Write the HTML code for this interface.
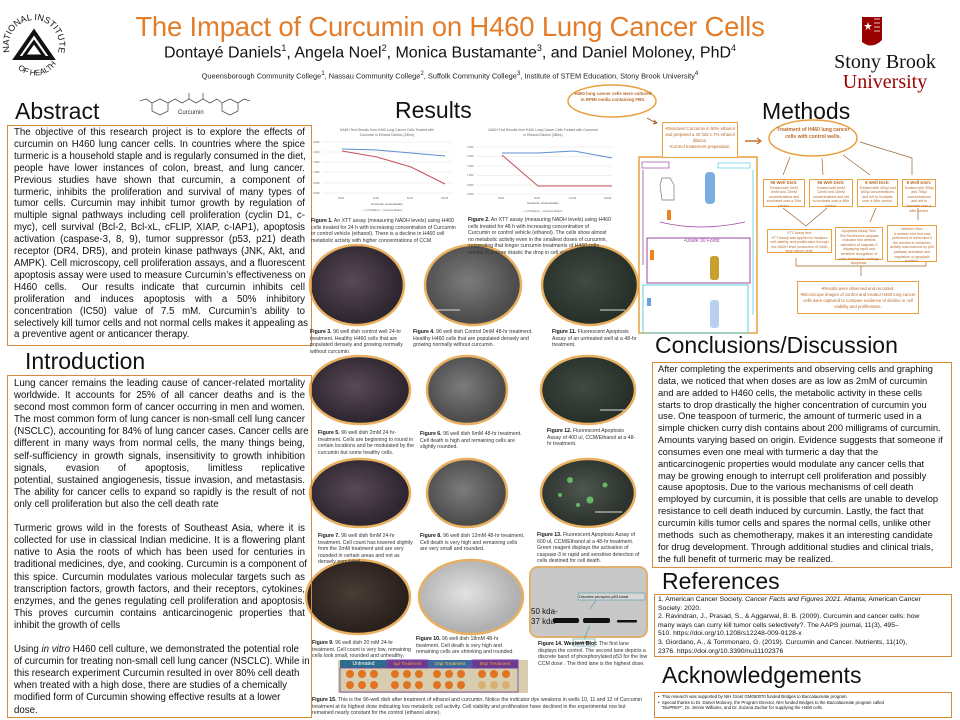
<!DOCTYPE html>
<html><head><meta charset="utf-8">
<style>
*{margin:0;padding:0;box-sizing:border-box}
body{width:960px;height:720px;background:#fff;position:relative;overflow:hidden;font-family:"Liberation Sans",sans-serif;color:#111}
.a{position:absolute}
.h{position:absolute;font-size:22px;color:#111;line-height:1}
.box{position:absolute;border:1.3px solid #d9893a}
.j div{text-align:justify;text-align-last:justify;white-space:nowrap}
.j div.l{text-align-last:left}
.cap{position:absolute;font-size:5.2px;line-height:6.6px;color:#333}
.cap b{color:#111}
.mb{position:absolute;border:1.2px solid #e8a040;background:#fff;color:#b86a2a;font-size:3.6px;line-height:4.6px;text-align:center;padding:1px}
.mb b{font-size:4.4px}
</style></head><body>

<svg class="a" style="left:0;top:0" width="960" height="720">
<defs>
<radialGradient id="g1" cx="45%" cy="45%"><stop offset="0" stop-color="#5a4a56"/><stop offset="1" stop-color="#2e2630"/></radialGradient>
<radialGradient id="g2" cx="45%" cy="45%"><stop offset="0" stop-color="#7c7c7c"/><stop offset="1" stop-color="#4c4c4c"/></radialGradient>
<radialGradient id="g3" cx="45%" cy="45%"><stop offset="0" stop-color="#4e564f"/><stop offset="1" stop-color="#2c322d"/></radialGradient>
<radialGradient id="g4" cx="45%" cy="45%"><stop offset="0" stop-color="#4a3c36"/><stop offset="1" stop-color="#2a211d"/></radialGradient>
<radialGradient id="g5" cx="45%" cy="45%"><stop offset="0" stop-color="#e2e2e2"/><stop offset="1" stop-color="#b0b0b0"/></radialGradient>
<radialGradient id="g6" cx="45%" cy="45%"><stop offset="0" stop-color="#3f4a42"/><stop offset="1" stop-color="#28302a"/></radialGradient>
</defs>
<path id="nihc" d="M10,52 A25,25 0 1 1 58,52" fill="none"/>
<text font-size="9" font-family="Liberation Sans" fill="#111"><textPath href="#nihc">NATIONAL INSTITUTES</textPath></text>
<path id="nihd" d="M14,64 A25,25 0 0 0 56,64" fill="none"/>
<text font-size="8" font-family="Liberation Sans" fill="#111"><textPath href="#nihd" startOffset="12%">OF HEALTH</textPath></text>
<path d="M34,32 L52,58 L16,58 Z" fill="none" stroke="#111" stroke-width="4"/>
<path d="M34,42 L44,56 L24,56 Z" fill="#fff" stroke="#111" stroke-width="3"/>
<path d="M862,17 L882,17 L882,40 Q872,50 862,42 Z" fill="#990000"/>
<path d="M868,22 l1,3 3,0 -2.5,2 1,3 -2.5,-2 -2.5,2 1,-3 -2.5,-2 3,0z" fill="#fff"/>
<path d="M874,19 L880,19 M874,23 L880,23 M874,27 L880,27 M874,31 L880,31" stroke="#fff" stroke-width="0.8"/>
<g stroke="#555" stroke-width="0.8" fill="none">
<polygon points="152,103 160,99 168,103 168,111 160,115 152,111"/>
<polygon points="222,103 230,99 238,103 238,111 230,115 222,111"/>
<polyline points="168,103 175,99 182,103 189,99 196,103 203,99 210,103 217,99 222,103"/>
<line x1="189" y1="99" x2="189" y2="93"/><line x1="203" y1="99" x2="203" y2="93"/>
<polyline points="152,103 146,99 140,101"/><polyline points="238,103 244,99 250,101"/>
</g>
<g font-family="Liberation Sans" fill="#666">
<g stroke="#e2e2e2" stroke-width="0.5">
<line x1="323" y1="142" x2="452" y2="142"/><line x1="323" y1="152" x2="452" y2="152"/><line x1="323" y1="162" x2="452" y2="162"/><line x1="323" y1="172" x2="452" y2="172"/><line x1="323" y1="183" x2="452" y2="183"/><line x1="323" y1="193" x2="452" y2="193"/>
<line x1="477" y1="147" x2="612" y2="147"/><line x1="477" y1="156.5" x2="612" y2="156.5"/><line x1="477" y1="166" x2="612" y2="166"/><line x1="477" y1="175.5" x2="612" y2="175.5"/><line x1="477" y1="185" x2="612" y2="185"/><line x1="477" y1="194" x2="612" y2="194"/>
</g>
<text font-size="3.4" x="387" y="131" text-anchor="middle">NADH Test Results from H460 Lung Cancer Cells Treated with</text>
<text font-size="3.4" x="387" y="136" text-anchor="middle">Curcumin in Ethanol Dilution (24hrs)</text>
<text font-size="3.4" x="543" y="131" text-anchor="middle">NADH Test Results from H460 Lung Cancer Cells Treated with Curcumin</text>
<text font-size="3.4" x="543" y="136" text-anchor="middle">in Ethanol Dilution (48hrs)</text>
<g font-size="2.6"><text x="313" y="143">2.500</text><text x="313" y="153">2.000</text><text x="313" y="163">1.500</text><text x="313" y="173">1.000</text><text x="313" y="184">0.500</text><text x="313" y="194">0.000</text>
<text x="467" y="148">2.500</text><text x="467" y="157">2.000</text><text x="467" y="167">1.500</text><text x="467" y="176">1.000</text><text x="467" y="186">0.500</text><text x="467" y="195">0.000</text>
<text x="338" y="199">0mM</text><text x="373" y="199">2mM</text><text x="407" y="199">6mM</text><text x="441" y="199">20mM</text>
<text x="498" y="199">0mM</text><text x="534" y="199">6mM</text><text x="569" y="199">12mM</text><text x="604" y="199">18mM</text></g>
<text font-size="3" x="387" y="205" text-anchor="middle" fill="#444">Curcumin concentration</text>
<text font-size="3" x="543" y="204" text-anchor="middle" fill="#444">Curcumin concentration</text>
<text font-size="2.4" x="362" y="211">— 1.7% Ethanol   — Curcumin Ethanol</text>
<text font-size="2.4" x="522" y="212">— 1.7% Ethanol   — Curcumin Ethanol</text>
</g>
<polyline points="342,149 377,150 411,153 445,156" fill="none" stroke="#5b8fcf" stroke-width="1"/>
<polyline points="342,151 377,157 411,167 445,184" fill="none" stroke="#c9505a" stroke-width="1"/>
<polyline points="502,153 538,153 574,151 612,158" fill="none" stroke="#5b8fcf" stroke-width="1"/>
<polyline points="502,155 538,186 612,186" fill="none" stroke="#c9505a" stroke-width="1"/>
<g stroke="#e8b060" stroke-width="2.5">
<ellipse cx="357" cy="285" rx="47" ry="40" fill="url(#g1)"/>
<ellipse cx="473" cy="285" rx="48" ry="40" fill="url(#g2)"/>
<ellipse cx="590" cy="285" rx="48" ry="40" fill="url(#g6)"/>
<ellipse cx="360" cy="390" rx="50" ry="34" fill="url(#g1)"/>
<ellipse cx="467" cy="390" rx="40" ry="34" fill="url(#g2)"/>
<ellipse cx="588" cy="390" rx="47" ry="34" fill="url(#g6)"/>
<ellipse cx="360" cy="493" rx="50" ry="34" fill="url(#g1)"/>
<ellipse cx="467" cy="493" rx="40" ry="34" fill="url(#g2)"/>
<ellipse cx="588" cy="493" rx="47" ry="34" fill="url(#g3)"/>
<ellipse cx="358" cy="597" rx="52" ry="37" fill="url(#g4)"/>
<ellipse cx="471" cy="597" rx="52" ry="37" fill="url(#g5)"/>
</g>
<g fill="#6fd36f" opacity="0.8"><circle cx="570" cy="480" r="3"/><circle cx="590" cy="500" r="3.5"/><circle cx="605" cy="485" r="2.5"/><circle cx="578" cy="505" r="2"/><circle cx="560" cy="495" r="2"/></g>
<g stroke="#ddd" stroke-width="1"><line x1="435" y1="310" x2="460" y2="310"/><line x1="600" y1="310" x2="625" y2="310"/><line x1="600" y1="410" x2="625" y2="410"/><line x1="595" y1="512" x2="622" y2="512"/></g>
<rect x="530" y="567" width="117" height="70" rx="8" fill="#c8c8c8" stroke="#e0b070" stroke-width="2"/>
<g fill="#111"><rect x="553" y="618" width="26" height="5" rx="2"/><rect x="583" y="618" width="27" height="5" rx="2"/><rect x="617" y="620" width="20" height="2.5" rx="1"/></g>
<rect x="578" y="593" width="67" height="7" fill="#d8d8d8" stroke="#4a9aa0" stroke-width="0.6"/>
<rect x="573" y="639" width="22" height="7" fill="#fff" stroke="#4a9aa0" stroke-width="0.6"/>
<line x1="596" y1="600" x2="590" y2="609" stroke="#4a9aa0" stroke-width="0.6"/>
<line x1="584" y1="639" x2="590" y2="625" stroke="#4a9aa0" stroke-width="0.6"/>
<rect x="338" y="660" width="190" height="33" fill="#d9cdb0"/>
<rect x="340" y="660" width="47" height="8" fill="#2c6d8c"/>
<rect x="387" y="660" width="41" height="8" fill="#6a3a8c" stroke="#8040b0"/>
<rect x="428" y="660" width="44" height="8" fill="#3a6aa0"/>
<rect x="472" y="660" width="46" height="8" fill="#6a3a8c" stroke="#8040b0"/>
<g fill="#e07420">
<circle cx="350" cy="674" r="4"/><circle cx="362" cy="674" r="4"/><circle cx="374" cy="674" r="4"/><circle cx="350" cy="685" r="4"/><circle cx="362" cy="685" r="4"/><circle cx="374" cy="685" r="4"/>
<circle cx="395" cy="674" r="4"/><circle cx="407" cy="674" r="4"/><circle cx="419" cy="674" r="4"/><circle cx="395" cy="685" r="4"/><circle cx="407" cy="685" r="4"/><circle cx="419" cy="685" r="4"/>
<circle cx="437" cy="674" r="4"/><circle cx="449" cy="674" r="4"/><circle cx="461" cy="674" r="4"/><circle cx="437" cy="685" r="4"/><circle cx="449" cy="685" r="4"/><circle cx="461" cy="685" r="4"/>
<circle cx="482" cy="674" r="4"/><circle cx="494" cy="674" r="4"/><circle cx="506" cy="674" r="4"/></g>
<g fill="#d8b070"><circle cx="482" cy="685" r="4"/><circle cx="494" cy="685" r="4"/><circle cx="506" cy="685" r="4"/></g>
<rect x="340" y="668" width="178" height="24" fill="none" stroke="#7040a0" stroke-width="0.8"/>
<ellipse cx="612" cy="101" rx="44" ry="16" fill="#fff" stroke="#e8a040" stroke-width="1.5"/>
<path d="M647,118 L656,123" stroke="#a0622a" stroke-width="1"/><path d="M654,120 l3,3 -4,1" fill="none" stroke="#a0622a"/>
<rect x="639" y="157" width="118" height="176" fill="#fff" stroke="#e8a040" stroke-width="1.5"/>
<rect x="647" y="238" width="103" height="45" fill="none" stroke="#9a4aa0" stroke-width="1"/>
<rect x="643" y="285" width="105" height="48" fill="none" stroke="#5ad0d8" stroke-width="1"/>
<rect x="642" y="162" width="27" height="6" fill="none" stroke="#9a4aa0" stroke-width="0.7"/>
<rect x="718" y="163" width="32" height="5" fill="none" stroke="#5ad0d8" stroke-width="0.7"/>
<line x1="643" y1="170" x2="643" y2="265" stroke="#9a4aa0" stroke-width="0.8"/>
<line x1="753" y1="170" x2="753" y2="315" stroke="#5ad0d8" stroke-width="0.8"/>
<path d="M662,178 L670,178 L674,185 L674,200 L662,200 L660,185 Z" fill="#fff" stroke="#777" stroke-width="0.7"/>
<rect x="705" y="172" width="10" height="32" rx="4" fill="#7aaee0"/>
<rect x="667" y="210" width="4" height="10" fill="#f08020"/>
<path d="M660,222 Q700,232 745,222" fill="none" stroke="#9a4aa0" stroke-width="0.8"/>
<rect x="710" y="256" width="9" height="24" rx="3" fill="#c8a030"/>
<rect x="650" y="250" width="4" height="10" fill="#f08020"/>
<rect x="710" y="300" width="9" height="28" rx="3" fill="#b8d0f0"/>
<rect x="647" y="298" width="4" height="8" fill="#6aa0e0"/>
<path d="M745,141 L760,141" stroke="#c07030" stroke-width="1.5"/><path d="M757,138 l4,3 -4,3" fill="none" stroke="#c07030" stroke-width="1.2"/>
<ellipse cx="813" cy="138" rx="44" ry="18" fill="#fff" stroke="#e8a040" stroke-width="1.5"/>
<g stroke="#a0622a" stroke-width="0.7" fill="none">
<line x1="790" y1="157" x2="783" y2="175"/><line x1="822" y1="158" x2="823" y2="175"/><line x1="843" y1="155" x2="870" y2="175"/><line x1="860" y1="142" x2="912" y2="158"/><line x1="912" y1="158" x2="912" y2="175"/>
<line x1="783" y1="208" x2="806" y2="226"/><line x1="827" y1="208" x2="806" y2="226"/><line x1="876" y1="208" x2="870" y2="222"/><line x1="918" y1="208" x2="918" y2="220"/>
<path d="M796,258 L796,266 L926,266 L926,258 M861,266 L861,276"/>
</g>
</svg>

<div class="a" style="left:95px;top:11px;width:710px;text-align:center;font-size:27.5px;color:#e37d2a;letter-spacing:-0.2px">The Impact of Curcumin on H460 Lung Cancer Cells</div>
<div class="a" style="left:95px;top:43px;width:710px;text-align:center;font-size:16px;color:#111">Dontayé Daniels<sup style="font-size:9px">1</sup>, Angela Noel<sup style="font-size:9px">2</sup>, Monica Bustamante<sup style="font-size:9px">3</sup>, and Daniel Moloney, PhD<sup style="font-size:9px">4</sup></div>
<div class="a" style="left:95px;top:70px;width:710px;text-align:center;font-size:7.4px;color:#222">Queensborough Community College<sup>1</sup>, Nassau Community College<sup>2</sup>, Suffolk Community College<sup>3</sup>, Institute of STEM Education, Stony Brook University<sup>4</sup></div>
<div class="a" style="left:815px;top:52px;width:140px;text-align:center;font-family:'Liberation Serif',serif;font-size:20px;line-height:20px;color:#111">Stony Brook<br><span style="color:#990000">University</span></div>

<div class="h" style="left:15px;top:100px;font-size:23px">Abstract</div>
<div class="a" style="left:178px;top:110px;font-size:6px;color:#333">Curcumin</div>
<div class="box j" style="left:7px;top:125px;width:305px;height:221px;padding:1px 6px;font-size:9.7px;line-height:11.9px">
<div>The objective of this research project is to explore the effects of</div>
<div>curcumin on H460 lung cancer cells. In countries where the spice</div>
<div>turmeric is a household staple and is regularly consumed in the diet,</div>
<div>people have lower instances of colon, breast, and lung cancer.</div>
<div>Previous studies have shown that curcumin, a component of</div>
<div>turmeric, inhibits the proliferation and survival of many types of</div>
<div>tumor cells. Curcumin may inhibit tumor growth by regulation of</div>
<div>multiple signal pathways including cell proliferation (cyclin D1, c-</div>
<div>myc), cell survival (Bcl-2, Bcl-xL, cFLIP, XIAP, c-IAP1), apoptosis</div>
<div>activation (caspase-3, 8, 9), tumor suppressor (p53, p21) death</div>
<div>receptor (DR4, DR5), and protein kinase pathways (JNK, Akt, and</div>
<div>AMPK). Cell microscopy, cell proliferation assays, and a fluorescent</div>
<div>apoptosis assay were used to measure Curcumin’s effectiveness on</div>
<div>H460 cells.&nbsp; Our results indicate that curcumin inhibits cell</div>
<div>proliferation and induces apoptosis with a 50% inhibitory</div>
<div>concentration (IC50) value of 7.5 mM. Curcumin’s ability to</div>
<div>selectively kill tumor cells and not normal cells makes it appealing as</div>
<div class="l">a preventive agent or anticancer therapy.</div>
</div>

<div class="h" style="left:25px;top:350px;font-size:23px">Introduction</div>
<div class="box j" style="left:7px;top:375px;width:305px;height:343px;padding:2px 6px;font-size:9.7px;line-height:12.1px">
<div>Lung cancer remains the leading cause of cancer-related mortality</div>
<div>worldwide. It accounts for 25% of all cancer deaths and is the</div>
<div>second most common form of cancer occurring in men and women.</div>
<div>The most common form of lung cancer is non-small cell lung cancer</div>
<div>(NSCLC), accounting for 84% of lung cancer cases. Cancer cells are</div>
<div>different in many ways from normal cells, the many things being,</div>
<div>self-sufficiency in growth signals, insensitivity to growth inhibition</div>
<div>signals, evasion of apoptosis, limitless replicative</div>
<div>potential, sustained angiogenesis, tissue invasion, and metastasis.</div>
<div>The ability for cancer cells to expand so rapidly is the result of not</div>
<div class="l">only cell proliferation but also the cell death rate</div>
<div class="l">&nbsp;</div>
<div>Turmeric grows wild in the forests of Southeast Asia, where it is</div>
<div>collected for use in classical Indian medicine. It is a flowering plant</div>
<div>native to Asia the roots of which has been used for centuries in</div>
<div>traditional medicines, dye, and cooking. Curcumin is a component of</div>
<div>this spice. Curcumin modulates various molecular targets such as</div>
<div>transcription factors, growth factors, and their receptors, cytokines,</div>
<div>enzymes, and the genes regulating cell proliferation and apoptosis.</div>
<div>This proves curcumin contains anticarcinogenic properties that</div>
<div class="l">inhibit the growth of cells</div>
<div class="l">&nbsp;</div>
<div class="l">Using <i>in vitro</i> H460 cell culture, we demonstrated the potential role</div>
<div class="l">of curcumin for treating non-small cell lung cancer (NSCLC). While in</div>
<div class="l">this research experiment Curcumin resulted in over 80% cell death</div>
<div class="l">when treated with a high dose, there are studies of a chemically</div>
<div class="l">modified form of Curcumin showing effective results at a lower</div>
<div class="l">dose.</div>
</div>

<div class="h" style="left:395px;top:99px;font-size:23px">Results</div>
<div class="cap" style="left:311px;top:218px;width:148px"><b>Figure 1.</b> An XTT assay (measuring NADH levels) using H460 cells treated for 24 h with increasing concentration of Curcumin or control vehicle (ethanol). There is a decline in H460 cell metabolic activity with higher concentrations of CCM.</div>
<div class="cap" style="left:468px;top:217px;width:144px"><b>Figure 2.</b> An XTT assay (measuring NADH levels) using H460 cells treated for 48 h with increasing concentration of Curcumin or control vehicle (ethanol). The cells show almost no metabolic activity even in the smallest doses of curcumin, suggesting that longer curcumin treatments of H460 cells results in a more drastic the drop in cell viability.</div>
<div class="cap" style="left:310px;top:329px;width:100px"><b>Figure 3.</b> 96 well dish control well 24-hr treatment. Healthy H460 cells that are populated densely and growing normally without curcumin.</div>
<div class="cap" style="left:413px;top:329px;width:122px"><b>Figure 4.</b> 96 well dish Control 0mM 48-hr treatment. Healthy H460 cells that are populated densely and growing normally without curcumin.</div>
<div class="cap" style="left:552px;top:329px;width:88px"><b>Figure 11.</b> Fluorescent Apoptosis Assay of an untreated well at a 48-hr treatment.</div>
<div class="cap" style="left:318px;top:430px;width:100px"><b>Figure 5.</b> 96 well dish 2mM 24 hr-treatment. Cells are beginning to round in certain locations and be modulated by the curcumin but some healthy cells.</div>
<div class="cap" style="left:420px;top:431px;width:105px"><b>Figure 6.</b> 96 well dish 6mM 48-hr treatment. Cell death is high and remaining cells are slightly rounded.</div>
<div class="cap" style="left:547px;top:428px;width:90px"><b>Figure 12.</b> Fluorescent Apoptosis Assay of 400 ul, CCM/Ethanol at a 48-hr treatment.</div>
<div class="cap" style="left:318px;top:533px;width:100px"><b>Figure 7.</b> 96 well dish 6mM 24-hr treatment. Cell count has lowered slightly from the 2mM treatment and are very rounded in certain areas and not as densely populated.</div>
<div class="cap" style="left:420px;top:533px;width:106px"><b>Figure 8.</b> 96 well dish 12mM 48-hr treatment. Cell death is very high and remaining cells are very small and rounded.</div>
<div class="cap" style="left:537px;top:532px;width:108px"><b>Figure 13.</b> Fluorescent Apoptosis Assay of 600 ul, CCM/Ethanol at a 48-hr treatment. Green reagent displays the activation of caspase-3 in rapid and sensitive detection of cells destined for cell death.</div>
<div class="cap" style="left:312px;top:640px;width:100px"><b>Figure 9.</b> 96 well dish 20 mM 24-hr treatment. Cell count is very low, remaining cells look small, rounded and unhealthy.</div>
<div class="cap" style="left:416px;top:636px;width:106px"><b>Figure 10.</b> 96 well dish 18mM 48-hr treatment. Cell death is very high and remaining cells are shrinking and rounded.</div>
<div class="cap" style="left:538px;top:641px;width:110px"><b>Figure 14. Western Blot:</b> The first lane displays the control. The second lane depicts a discrete band of phosphorylated p53 for the low CCM dose . The third lane is the highest dose.</div>
<div class="cap" style="left:312px;top:697px;width:335px"><b>Figure 15.</b> This is the 96-well dish after treatment of ethanol and curcumin. Notice the indicator dye weakens in wells 10, 11 and 12 of Curcumin treatment at its highest dose indicating low metabolic cell activity. Cell viability and proliferation have declined in the experimental row but remained nearly constant for the control (ethanol alone).</div>
<div class="a" style="left:531px;top:607px;font-size:8px;color:#111">50 kda-</div>
<div class="a" style="left:531px;top:617px;font-size:8px;color:#111">37 kda-</div>
<div class="a" style="left:579px;top:594px;font-size:4px;color:#111">Discrete phospho-p53 band</div>
<div class="a" style="left:576px;top:640px;font-size:4px;color:#111">GAPDH</div>
<div class="a" style="left:340px;top:661px;width:47px;font-size:5px;color:#fff;text-align:center">Untreated</div>
<div class="a" style="left:387px;top:661px;width:41px;font-size:4.6px;color:#ff9a40;text-align:center">5µl Treatment</div>
<div class="a" style="left:428px;top:661px;width:44px;font-size:4.6px;color:#ffd040;text-align:center">10µl Treatment</div>
<div class="a" style="left:472px;top:661px;width:46px;font-size:4.6px;color:#ff9a40;text-align:center">50µl Treatment</div>

<div class="h" style="left:762px;top:100px;font-size:23px">Methods</div>
<div class="a" style="left:572px;top:91px;width:82px;text-align:center;font-size:4.4px;line-height:6px;color:#b86a2a;font-weight:bold">H460 lung cancer cells were cultured in RPMI media containing FBS.</div>
<div class="mb" style="left:662px;top:122px;width:76px;height:36px;font-size:4.3px;line-height:6px;padding-top:3px">•Dissolved Curcumin in 50% ethanol and prepared a 30 fold 1.7% ethanol dilution.<br>•Control treatement preparation.</div>
<div class="a" style="left:776px;top:127px;width:74px;text-align:center;font-size:5px;line-height:6.5px;color:#b86a2a;font-weight:bold">Treatment of H460 lung cancer cells with control wells.</div>
<div class="mb" style="left:763px;top:179px;width:42px;height:28px"><b>96 Well Dish:</b><br>Treated with 0mM, 6mM and 20mM concentrations and incubated over a 24hr period.</div>
<div class="mb" style="left:809px;top:179px;width:44px;height:28px"><b>96 Well Dish:</b><br>Treated with 6mM, 12mM and 18mM concentrations and left to incubate over a 48hr period.</div>
<div class="mb" style="left:857px;top:179px;width:41px;height:28px"><b>6 Well Dish:</b><br>Treated with 400µl and 600µl concentrations and left to incubate over a 48hr period.</div>
<div class="mb" style="left:902px;top:179px;width:34px;height:28px"><b>6 Well Dish:</b><br>Treated with 300µl and 750µl concentrations and left to incubate over a 48hr period.</div>
<div class="mb" style="left:767px;top:229px;width:65px;height:24px">XTT Assay test:<br>XTT Assay was applied to measure cell viability and proliferation through the NADH level production of H460 lung cancer cells.</div>
<div class="mb" style="left:835px;top:227px;width:48px;height:33px">Apoptosis Assay Test:<br>This fluorescent caspase indicator test detects activation of caspase-3 displaying rapid and sensitive recognition of cells destined to undergo apoptosis.</div>
<div class="mb" style="left:887px;top:225px;width:50px;height:37px">Western Blot:<br>A western blot test was performed to determine if the decline in metabolic activity was induced by p53 pathway activation and regulation of apoptotic proteins.</div>
<div class="mb" style="left:797px;top:281px;width:122px;height:33px;font-size:4.3px;line-height:6px;padding-top:4px">•Results were observed and recorded.<br>•Microscope images of control and treated H460 lung cancer cells were captured to compare evidence of decline in cell viability and proliferation.</div>
<div class="a" style="left:684px;top:238px;font-size:5px;color:#9a4aa0">•Dilute 30 Folds:</div>

<div class="h" style="left:655px;top:334px;font-size:23px">Conclusions/Discussion</div>
<div class="box" style="left:652px;top:362px;width:300px;height:206px;padding:1px 5px;font-size:9.3px;line-height:11.85px;white-space:nowrap;overflow:hidden">
After completing the experiments and observing cells and graphing<br>data, we noticed that when doses are as low as 2mM of curcumin<br>and are added to H460 cells, the metabolic activity in these cells<br>starts to drop drastically the higher concentration of curcumin you<br>use. One teaspoon of turmeric, the amount of turmeric used in a<br>simple chicken curry dish contains about 200 milligrams of curcumin.<br>Amounts varying based on origin. Evidence suggests that someone if<br>consumes even one meal with turmeric a day that the<br>anticarcinogenic properties would modulate any cancer cells that<br>may be growing enough to interrupt cell proliferation and possibly<br>cause apoptosis. Due to the various mechanisms of cell death<br>employed by curcumin, it is possible that cells are unable to develop<br>resistance to cell death induced by curcumin. Lastly, the fact that<br>curcumin kills tumor cells and spares the normal cells, unlike other<br>methods&nbsp; such as chemotherapy, makes it an interesting candidate<br>for drug development. Through additional studies and clinical trials,<br>the full benefit of turmeric may be realized.</div>
<div class="h" style="left:662px;top:570px;font-size:23px">References</div>
<div class="box" style="left:654px;top:594px;width:298px;height:63px;padding:1px 3px;font-size:6.8px;line-height:8.6px;white-space:nowrap;overflow:hidden">
1. American Cancer Society. <i>Cancer Facts and Figures 2021.</i> Atlanta; American Cancer<br>Society: 2020.<br>2. Ravindran, J., Prasad, S., &amp; Aggarwal, B. B. (2009). Curcumin and cancer cells: how<br>many ways can curry kill tumor cells selectively?. The AAPS journal, 11(3), 495–<br>510. https://doi.org/10.1208/s12248-009-9128-x<br>3. Giordano, A., &amp; Tommonaro, G. (2019). Curcumin and Cancer. Nutrients, 11(10),<br>2376. https://doi.org/10.3390/nu11102376</div>
<div class="h" style="left:662px;top:664px;font-size:23px">Acknowledgements</div>
<div class="box" style="left:654px;top:692px;width:298px;height:26px;padding:1px 3px;font-size:4.3px;line-height:5.6px;overflow:hidden">
•&nbsp;&nbsp;This research was supported by NIH Grant GM050070 funded Bridges to Baccalaureate program.<br>•&nbsp;&nbsp;Special thanks to Dr. Daniel Moloney, the Program Director, NIH funded Bridges to the Baccalaureate program called<br>&nbsp;&nbsp;&nbsp;"BioPREP", Dr. Jennie Williams, and Dr. Zuzana Zachar for supplying the H460 cells.</div>
</body></html>
